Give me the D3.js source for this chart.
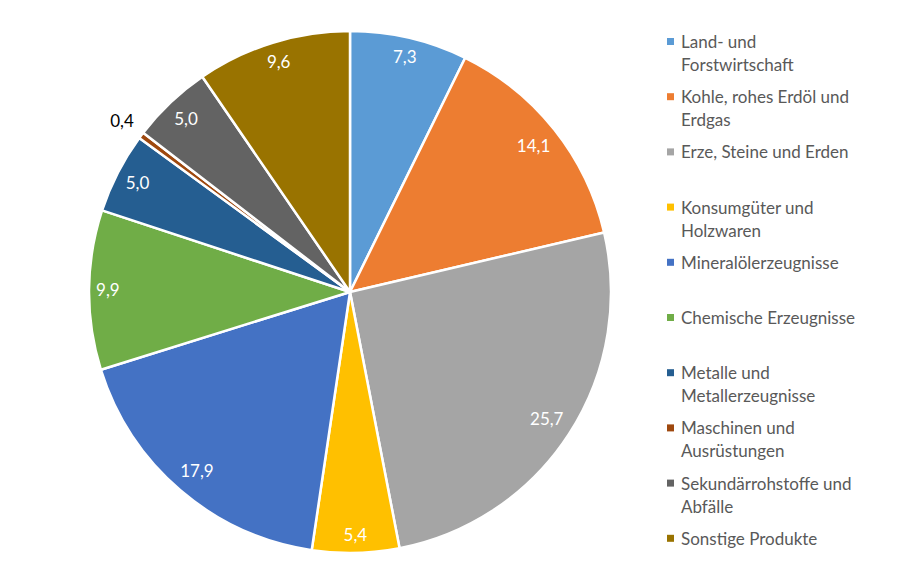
<!DOCTYPE html>
<html>
<head>
<meta charset="utf-8">
<script src="https://cdn.jsdelivr.net/npm/d3@7"></script>
<style>
  body { margin: 0; background: #fff; }
  svg { display: block; font-family: Lato, "Open Sans", sans-serif; }
</style>
</head>
<body>
<svg id="chart" width="904" height="582"></svg>
<script>
// chart data
const categories = [
  ["Land- und", "Forstwirtschaft"],
  ["Kohle, rohes Erdöl und", "Erdgas"],
  ["Erze, Steine und Erden"],
  ["Konsumgüter und", "Holzwaren"],
  ["Mineralölerzeugnisse"],
  ["Chemische Erzeugnisse"],
  ["Metalle und", "Metallerzeugnisse"],
  ["Maschinen und", "Ausrüstungen"],
  ["Sekundärrohstoffe und", "Abfälle"],
  ["Sonstige Produkte"]
];
const values = [7.3, 14.1, 25.7, 5.4, 17.9, 9.9, 5.0, 0.4, 5.0, 9.6];
const colors = ["#5B9BD5", "#ED7D31", "#A5A5A5", "#FFC000", "#4472C4",
                "#70AD47", "#255E91", "#9E480E", "#636363", "#997300"];

const svg = d3.select("#chart");
const cx = 350, cy = 292, radius = 261;
const fontSize = 17;

const g = svg.append("g").attr("transform", `translate(${cx},${cy})`);

const pie = d3.pie().sort(null).value(d => d);
const arcs = pie(values);

const arc = d3.arc().innerRadius(0).outerRadius(radius);

g.selectAll("path")
  .data(arcs)
  .enter()
  .append("path")
  .attr("d", arc)
  .attr("fill", (d, i) => colors[i])
  .attr("stroke", "#fff")
  .attr("stroke-width", 2.5)
  .attr("stroke-linejoin", "round");

// labels: "inside end" like Excel (box corner kept inside the edge),
// the tiny slice gets its label outside
const fmt = v => v.toFixed(1).replace(".", ",");
const edge = radius - 7;
const outerR = 285;

const labels = g.selectAll("text.lbl")
  .data(arcs)
  .enter()
  .append("text")
  .attr("class", "lbl")
  .attr("text-anchor", "middle")
  .attr("dy", "0.35em")
  .attr("font-size", fontSize)
  .attr("fill", d => d.data < 1 ? "#000" : "#fff")
  .text(d => fmt(d.data));

labels.attr("transform", function(d) {
  const a = (d.startAngle + d.endAngle) / 2;
  const s = Math.sin(a), c = -Math.cos(a);
  let dist;
  if (d.data < 1) {
    dist = outerR;
  } else {
    const hw = this.getComputedTextLength() / 2;
    const hh = fontSize * 0.6;
    dist = edge - Math.abs(s) * hw - Math.abs(c) * hh;
  }
  return `translate(${s * dist},${c * dist})`;
});

// legend
const legend = svg.append("g")
  .attr("font-size", fontSize)
  .selectAll("g")
  .data(categories)
  .enter()
  .append("g")
  .attr("transform", (d, i) => `translate(667,${42 + i * 55.2})`);

legend.append("rect")
  .attr("x", 0)
  .attr("y", -4)
  .attr("width", 7)
  .attr("height", 7)
  .attr("fill", (d, i) => colors[i]);

legend.append("text")
  .attr("x", 14)
  .attr("fill", "#595959")
  .selectAll("tspan")
  .data(d => d)
  .enter()
  .append("tspan")
  .attr("x", 14)
  .attr("y", (d, j) => j * 23)
  .attr("dy", "0.35em")
  .text(d => d);
</script>
</body>
</html>
